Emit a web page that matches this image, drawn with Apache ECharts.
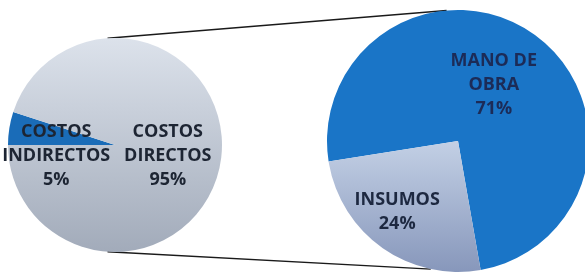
<!DOCTYPE html>
<html>
<head>
<meta charset="utf-8">
<script src="https://cdn.jsdelivr.net/npm/echarts@6/dist/echarts.min.js"></script>
<style>
  html, body { margin: 0; padding: 0; background: #fff; }
  #chart { width: 585px; height: 274px; }
</style>
</head>
<body>
<div id="chart"></div>
<script>
// main pie: direct vs indirect costs
const mainNames = ['COSTOS\nINDIRECTOS', 'COSTOS\nDIRECTOS']
const mainValues = [5, 95]
// breakdown pie of the direct costs
const subNames = ['MANO DE\nOBRA', 'INSUMOS']
const subValues = [71, 24]

const leftCenter = [115, 145]
const leftRadius = 107
const rightCenter = [458, 141]
const rightRadius = 131

const font = '"Open Sans", sans-serif'

const grad = (top, bottom) => new echarts.graphic.LinearGradient(0, 0, 0, 1, [
  { offset: 0, color: top },
  { offset: 1, color: bottom },
])

// connector from a point on one circle to a point on the other
const polar = (c, r, deg) => [
  c[0] + r * Math.cos(deg * Math.PI / 180),
  c[1] - r * Math.sin(deg * Math.PI / 180),
]
const connector = (a1, a2) => {
  const p1 = polar(leftCenter, leftRadius, a1)
  const p2 = polar(rightCenter, rightRadius, a2)
  return {
    type: 'line',
    z: 0,
    shape: { x1: p1[0], y1: p1[1], x2: p2[0], y2: p2[1] },
    style: { stroke: '#1a1a1a', lineWidth: 1.3 },
  }
}

const chart = echarts.init(document.getElementById('chart'))

chart.setOption({
  animation: false,
  graphic: [connector(94, 95), connector(266, 258)],
  series: [
    {
      type: 'pie',
      center: leftCenter,
      radius: leftRadius,
      startAngle: 180,
      clockwise: true,
      silent: true,
      z: 2,
      itemStyle: { borderWidth: 0 },
      label: {
        position: 'inside',
        fontFamily: font,
        fontWeight: 'bold',
        fontSize: 18,
        lineHeight: 24,
        color: '#1d2533',
        formatter: p => p.name + '\n' + p.value + '%',
      },
      labelLine: { show: false },
      data: [
        {
          name: mainNames[0],
          value: mainValues[0],
          itemStyle: { color: '#1a6cb8' },
          label: { offset: [-3, 20] },
        },
        {
          name: mainNames[1],
          value: mainValues[1],
          itemStyle: { color: grad('#dce2eb', '#a2abba') },
          label: { offset: [-3, 2] },
        },
      ],
    },
    {
      type: 'pie',
      center: rightCenter,
      radius: rightRadius,
      startAngle: 189,
      clockwise: true,
      silent: true,
      z: 2,
      itemStyle: { borderWidth: 0 },
      label: {
        position: 'inside',
        fontFamily: font,
        fontWeight: 'bold',
        fontSize: 18,
        lineHeight: 24,
        formatter: p => p.name + '\n' + p.value + '%',
      },
      labelLine: { show: false },
      data: [
        {
          name: subNames[0],
          value: subValues[0],
          itemStyle: { color: '#1a75c7' },
          label: { color: '#1c2b57', offset: [-4, 0] },
        },
        {
          name: subNames[1],
          value: subValues[1],
          itemStyle: { color: grad('#c3d0e5', '#8797bb') },
          label: { color: '#1d2840', offset: [-21, 15] },
        },
      ],
    },
  ],
})
</script>
</body>
</html>
